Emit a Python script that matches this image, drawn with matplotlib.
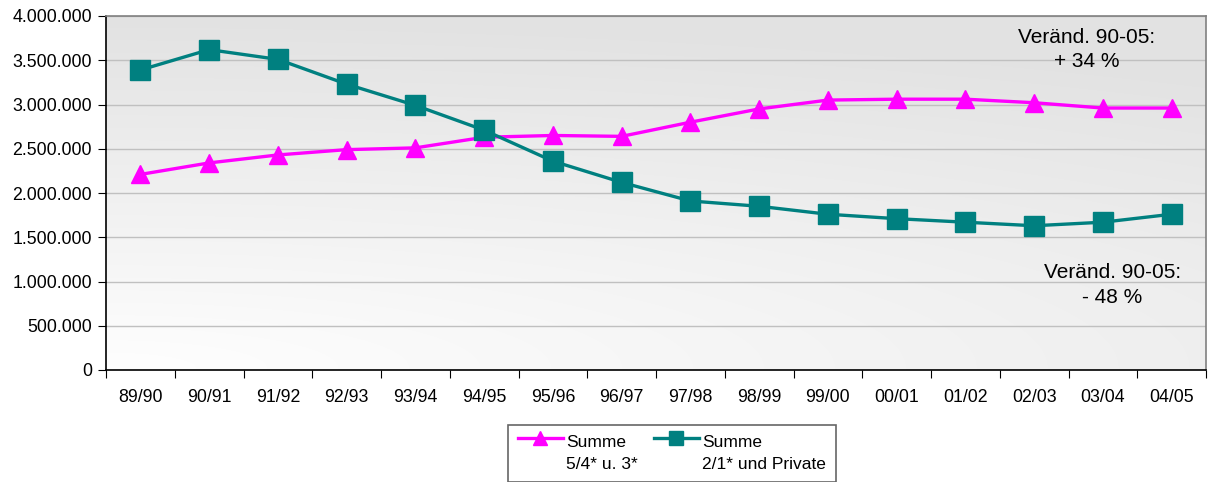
import numpy as np
import matplotlib
matplotlib.use("Agg")
import matplotlib.pyplot as plt
from matplotlib.ticker import FuncFormatter, FixedLocator
from matplotlib.offsetbox import DrawingArea

plt.rcParams['font.family'] = ['Liberation Sans', 'DejaVu Sans']

# Schuljahre
jahre = ["89/90", "90/91", "91/92", "92/93", "93/94", "94/95", "95/96", "96/97",
         "97/98", "98/99", "99/00", "00/01", "01/02", "02/03", "03/04", "04/05"]

# Summe 5/4* u. 3*
summe_54_3 = [2210000, 2340000, 2430000, 2490000, 2510000, 2630000, 2650000, 2640000,
              2800000, 2950000, 3050000, 3060000, 3060000, 3020000, 2960000, 2960000]

# Summe 2/1* und Private
summe_21_priv = [3390000, 3620000, 3510000, 3230000, 2990000, 2710000, 2360000, 2120000,
                 1910000, 1850000, 1760000, 1710000, 1670000, 1630000, 1670000, 1760000]

fig = plt.figure(figsize=(12.09, 4.82), dpi=100)
ax = fig.add_axes([106 / 1209, 1 - 370 / 482, 1100 / 1209, 354 / 482])

x = np.arange(len(jahre))
ax.set_xlim(-0.5, len(jahre) - 0.5)
ax.set_ylim(0, 4000000)

# Hintergrund mit Verlauf (unten links hell, oben dunkler)
gx, gy = np.meshgrid(np.linspace(0, 1, 200), np.linspace(1, 0, 100))
t = np.clip(np.sqrt((0.55 * gx) ** 2 + gy ** 2), 0, 1)
shade = 0.997 - 0.11 * t
ax.imshow(np.dstack([shade, shade, shade]), extent=(-0.5, len(jahre) - 0.5, 0, 4000000),
          aspect='auto', zorder=0, interpolation='bilinear')

ax.yaxis.set_major_locator(FixedLocator(np.arange(0, 4000001, 500000)))
ax.yaxis.set_major_formatter(FuncFormatter(lambda v, p: f"{int(v):,}".replace(",", ".")))
ax.grid(axis='y', color='#c0c0c0', linewidth=1.0, zorder=1)

ax.plot(x, summe_54_3, color='#ff00ff', linewidth=2.4, marker='^', markersize=13,
        label="Summe\n5/4* u. 3*", zorder=3)
ax.plot(x, summe_21_priv, color='#008080', linewidth=2.4, marker='s', markersize=14,
        label="Summe\n2/1* und Private", zorder=4)

# x-Ticks zwischen den Kategorien, Beschriftung mittig
ax.set_xticks(np.arange(-0.5, len(jahre)), minor=False)
ax.set_xticklabels([])
ax.set_xticks(x, minor=True)
ax.set_xticklabels(jahre, minor=True)
ax.tick_params(axis='x', which='major', direction='out', length=6, color='black')
ax.tick_params(axis='x', which='minor', length=0, pad=14, labelsize=12.8)
ax.tick_params(axis='y', direction='out', length=6, labelsize=12.8, pad=4)

for s in ['left', 'bottom']:
    ax.spines[s].set_color('black')
    ax.spines[s].set_linewidth(1.2)
for s in ['top', 'right']:
    ax.spines[s].set_color('#808080')
    ax.spines[s].set_linewidth(1.2)

ax.text(13.76, 3620000, "Veränd. 90-05:\n+ 34 %", ha='center', va='center',
        multialignment='center', fontsize=15, linespacing=1.35, zorder=5)
ax.text(14.14, 960000, "Veränd. 90-05:\n- 48 %", ha='center', va='center',
        multialignment='center', fontsize=15, linespacing=1.35, zorder=5)

leg = fig.legend(loc='upper center', bbox_to_anchor=(672 / 1209, 1 - 425 / 482),
                 ncol=2, fontsize=12.5, frameon=True, fancybox=False,
                 edgecolor='#404040', handlelength=2.6, columnspacing=0.9,
                 handletextpad=0.2, borderpad=0.55, borderaxespad=0,
                 markerscale=0.75)
leg.get_frame().set_linewidth(1.2)
for txt in leg.get_texts():
    txt.set_multialignment('left')
    txt.set_linespacing(1.65)

# Symbole auf Höhe der ersten Textzeile
for da in leg.findobj(DrawingArea):
    for child in da.get_children():
        child.set_ydata(np.asarray(child.get_ydata()) + 11)

fig.savefig("out.png", dpi=100)
